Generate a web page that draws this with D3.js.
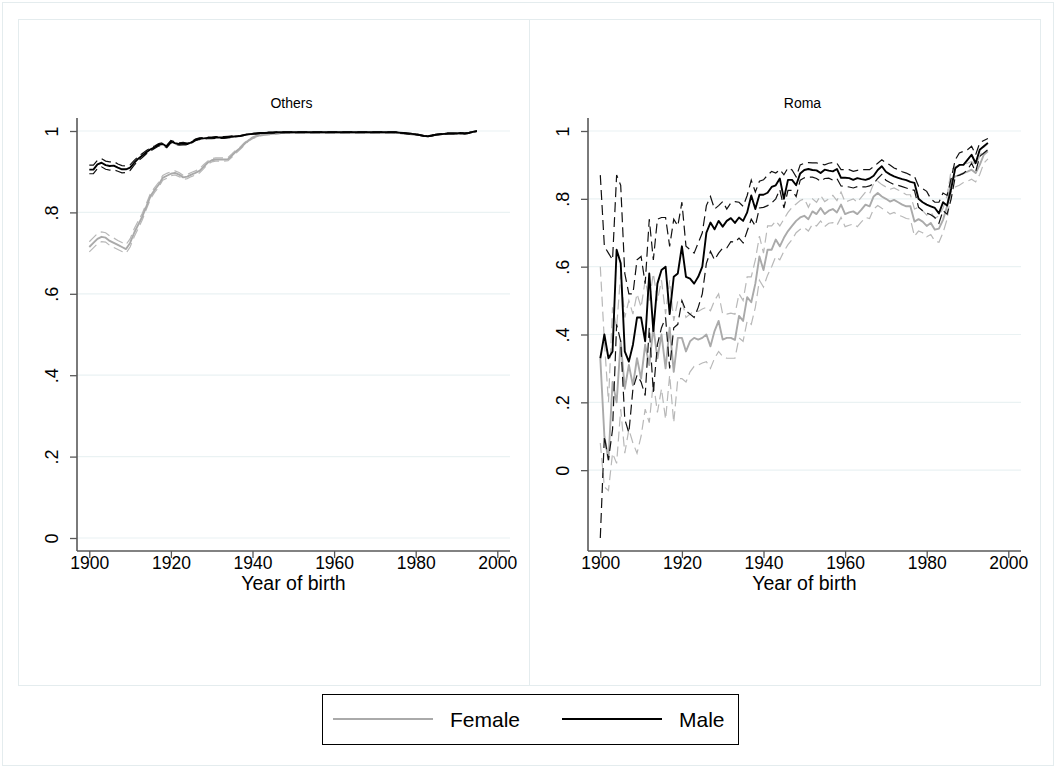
<!DOCTYPE html>
<html>
<head>
<meta charset="utf-8">
<script src="https://cdn.jsdelivr.net/npm/d3@7"></script>
<style>
  body { margin: 0; background: #fff; }
  svg { display: block; }
  text { font-family: "Liberation Sans", Arial, Helvetica, sans-serif; fill: #000; }
</style>
</head>
<body>
<svg width="1057" height="769"></svg>
<script>
// birth cohorts on the x axis
const years = d3.range(1900, 1996);
const xTicks = [1900, 1920, 1940, 1960, 1980, 2000];
const yTicks = [0, .2, .4, .6, .8, 1];
const yTickLabels = ['0', '.2', '.4', '.6', '.8', '1'];
const panelNames = ['Others', 'Roma'];
const seriesNames = ['Female', 'Male'];

// Others: female share, with lower and upper bounds
const othersFemale = [
  0.715, 0.725, 0.735, 0.740, 0.738, 0.730, 0.725, 0.720, 0.715, 0.710,
  0.725, 0.750, 0.770, 0.790, 0.815, 0.840, 0.855, 0.868, 0.885, 0.890,
  0.895, 0.897, 0.893, 0.886, 0.888, 0.893, 0.897, 0.902, 0.912, 0.922,
  0.928, 0.930, 0.930, 0.930, 0.931, 0.940, 0.950, 0.958, 0.968, 0.977,
  0.983, 0.987, 0.990, 0.991, 0.992, 0.993, 0.994, 0.995, 0.996, 0.996,
  0.997, 0.997, 0.997, 0.997, 0.997, 0.997, 0.997, 0.997, 0.997, 0.997,
  0.997, 0.997, 0.997, 0.997, 0.997, 0.997, 0.997, 0.997, 0.997, 0.997,
  0.997, 0.997, 0.997, 0.997, 0.997, 0.996, 0.995, 0.994, 0.993, 0.992,
  0.991, 0.990, 0.988, 0.987, 0.989, 0.991, 0.992, 0.993, 0.994, 0.994,
  0.994, 0.995, 0.994, 0.995, 0.998, 1.000
];
const othersFemaleLo = [
  0.703, 0.713, 0.723, 0.728, 0.727, 0.719, 0.714, 0.709, 0.704, 0.700,
  0.715, 0.740, 0.761, 0.782, 0.808, 0.833, 0.849, 0.862, 0.879, 0.884,
  0.890, 0.892, 0.888, 0.881, 0.883, 0.888, 0.892, 0.897, 0.907, 0.918,
  0.924, 0.926, 0.926, 0.926, 0.927, 0.936, 0.946, 0.955, 0.965, 0.975,
  0.981, 0.985, 0.988, 0.990, 0.991, 0.992, 0.993, 0.994, 0.995, 0.995,
  0.996, 0.996, 0.996, 0.996, 0.996, 0.996, 0.996, 0.996, 0.996, 0.996,
  0.996, 0.996, 0.996, 0.996, 0.996, 0.996, 0.996, 0.996, 0.996, 0.996,
  0.996, 0.996, 0.996, 0.996, 0.996, 0.995, 0.994, 0.993, 0.992, 0.991,
  0.990, 0.989, 0.987, 0.986, 0.988, 0.990, 0.991, 0.992, 0.993, 0.993,
  0.993, 0.994, 0.993, 0.994, 0.997, 0.999
];
const othersFemaleHi = [
  0.728, 0.738, 0.748, 0.752, 0.750, 0.742, 0.737, 0.731, 0.726, 0.721,
  0.735, 0.760, 0.779, 0.798, 0.822, 0.847, 0.861, 0.874, 0.891, 0.896,
  0.900, 0.902, 0.898, 0.891, 0.893, 0.898, 0.902, 0.907, 0.917, 0.926,
  0.932, 0.934, 0.934, 0.934, 0.935, 0.944, 0.954, 0.961, 0.971, 0.979,
  0.985, 0.989, 0.992, 0.992, 0.993, 0.994, 0.995, 0.996, 0.997, 0.997,
  0.998, 0.998, 0.998, 0.998, 0.998, 0.998, 0.998, 0.998, 0.998, 0.998,
  0.998, 0.998, 0.998, 0.998, 0.998, 0.998, 0.998, 0.998, 0.998, 0.998,
  0.998, 0.998, 0.998, 0.998, 0.998, 0.997, 0.996, 0.995, 0.994, 0.993,
  0.992, 0.991, 0.989, 0.988, 0.990, 0.992, 0.993, 0.994, 0.995, 0.995,
  0.995, 0.996, 0.995, 0.996, 0.999, 1.001
];

// Others: male
const othersMale = [
  0.905, 0.905, 0.918, 0.922, 0.916, 0.914, 0.915, 0.910, 0.906, 0.906,
  0.910, 0.922, 0.932, 0.940, 0.948, 0.955, 0.960, 0.966, 0.968, 0.962,
  0.974, 0.970, 0.968, 0.969, 0.968, 0.972, 0.978, 0.981, 0.982, 0.983,
  0.983, 0.984, 0.984, 0.984, 0.985, 0.986, 0.987, 0.988, 0.990, 0.992,
  0.993, 0.994, 0.995, 0.995, 0.996, 0.996, 0.997, 0.997, 0.997, 0.997,
  0.997, 0.997, 0.997, 0.997, 0.997, 0.997, 0.997, 0.997, 0.997, 0.997,
  0.997, 0.997, 0.997, 0.997, 0.997, 0.997, 0.997, 0.997, 0.997, 0.997,
  0.997, 0.997, 0.997, 0.997, 0.997, 0.997, 0.996, 0.995, 0.994, 0.993,
  0.992, 0.990, 0.988, 0.987, 0.989, 0.991, 0.992, 0.993, 0.994, 0.994,
  0.994, 0.995, 0.994, 0.995, 0.998, 1.000
];
const othersMaleLo = [
  0.895, 0.895, 0.908, 0.912, 0.906, 0.904, 0.905, 0.901, 0.897, 0.898,
  0.903, 0.916, 0.927, 0.935, 0.944, 0.951, 0.957, 0.963, 0.965, 0.959,
  0.971, 0.967, 0.965, 0.966, 0.966, 0.970, 0.976, 0.979, 0.980, 0.981,
  0.981, 0.982, 0.982, 0.982, 0.983, 0.984, 0.986, 0.987, 0.989, 0.991,
  0.992, 0.993, 0.994, 0.994, 0.995, 0.995, 0.996, 0.996, 0.996, 0.996,
  0.996, 0.996, 0.996, 0.996, 0.996, 0.996, 0.996, 0.996, 0.996, 0.996,
  0.996, 0.996, 0.996, 0.996, 0.996, 0.996, 0.996, 0.996, 0.996, 0.996,
  0.996, 0.996, 0.996, 0.996, 0.996, 0.996, 0.995, 0.994, 0.993, 0.992,
  0.991, 0.989, 0.987, 0.986, 0.988, 0.990, 0.991, 0.992, 0.993, 0.993,
  0.993, 0.994, 0.993, 0.994, 0.997, 0.999
];
const othersMaleHi = [
  0.916, 0.916, 0.928, 0.932, 0.926, 0.924, 0.925, 0.919, 0.915, 0.914,
  0.917, 0.928, 0.937, 0.945, 0.952, 0.959, 0.963, 0.969, 0.971, 0.965,
  0.977, 0.973, 0.971, 0.972, 0.970, 0.974, 0.980, 0.983, 0.984, 0.985,
  0.985, 0.986, 0.986, 0.986, 0.987, 0.988, 0.988, 0.989, 0.991, 0.993,
  0.994, 0.995, 0.996, 0.996, 0.997, 0.997, 0.998, 0.998, 0.998, 0.998,
  0.998, 0.998, 0.998, 0.998, 0.998, 0.998, 0.998, 0.998, 0.998, 0.998,
  0.998, 0.998, 0.998, 0.998, 0.998, 0.998, 0.998, 0.998, 0.998, 0.998,
  0.998, 0.998, 0.998, 0.998, 0.998, 0.998, 0.997, 0.996, 0.995, 0.994,
  0.993, 0.991, 0.989, 0.988, 0.990, 0.992, 0.993, 0.994, 0.995, 0.995,
  0.995, 0.996, 0.995, 0.996, 0.999, 1.001
];

// Roma: female
const romaFemale = [
  0.33, 0.10, 0.03, 0.26, 0.20, 0.38, 0.24, 0.31, 0.25, 0.33,
  0.27, 0.37, 0.31, 0.42, 0.33, 0.40, 0.30, 0.42, 0.29, 0.39,
  0.39, 0.35, 0.38, 0.39, 0.385, 0.39, 0.40, 0.365, 0.41, 0.44,
  0.385, 0.39, 0.39, 0.384, 0.455, 0.44, 0.51, 0.495, 0.55, 0.63,
  0.59, 0.65, 0.65, 0.68, 0.66, 0.685, 0.705, 0.72, 0.735, 0.745,
  0.75, 0.74, 0.763, 0.755, 0.773, 0.755, 0.765, 0.77, 0.76, 0.783,
  0.755, 0.76, 0.763, 0.755, 0.768, 0.783, 0.778, 0.807, 0.817, 0.807,
  0.80, 0.792, 0.797, 0.79, 0.783, 0.778, 0.778, 0.733, 0.74, 0.733,
  0.72, 0.729, 0.709, 0.712, 0.738, 0.778, 0.856, 0.866, 0.87, 0.876,
  0.88, 0.886, 0.876, 0.90, 0.93, 0.94
];
const romaFemaleLo = [
  0.08, -0.05, -0.06, 0.05, 0.02, 0.18, 0.05, 0.12, 0.08, 0.05,
  0.10, 0.18, 0.14, 0.26, 0.17, 0.24, 0.15, 0.28, 0.14, 0.27,
  0.27, 0.26, 0.29, 0.306, 0.31, 0.316, 0.32, 0.30, 0.33, 0.35,
  0.335, 0.33, 0.33, 0.33, 0.39, 0.38, 0.44, 0.43, 0.48, 0.56,
  0.54, 0.575, 0.60, 0.63, 0.62, 0.645, 0.665, 0.68, 0.70, 0.71,
  0.715, 0.705, 0.725, 0.72, 0.735, 0.718, 0.728, 0.73, 0.722, 0.745,
  0.718, 0.722, 0.726, 0.718, 0.732, 0.745, 0.742, 0.77, 0.78, 0.772,
  0.765, 0.755, 0.76, 0.752, 0.748, 0.742, 0.74, 0.69, 0.705, 0.70,
  0.688, 0.695, 0.675, 0.672, 0.70, 0.74, 0.82, 0.835, 0.84, 0.848,
  0.852, 0.858, 0.85, 0.872, 0.905, 0.918
];
const romaFemaleHi = [
  0.60, 0.38, 0.20, 0.48, 0.42, 0.58, 0.45, 0.50, 0.46, 0.52,
  0.48, 0.56, 0.50, 0.58, 0.50, 0.56, 0.46, 0.56, 0.44, 0.50,
  0.50, 0.45, 0.46, 0.47, 0.468, 0.475, 0.48, 0.47, 0.50, 0.52,
  0.46, 0.46, 0.463, 0.46, 0.52, 0.50, 0.57, 0.57, 0.62, 0.69,
  0.64, 0.72, 0.72, 0.735, 0.72, 0.74, 0.76, 0.775, 0.785, 0.795,
  0.80, 0.775, 0.80, 0.79, 0.81, 0.792, 0.80, 0.81, 0.795, 0.82,
  0.79, 0.795, 0.80, 0.79, 0.805, 0.82, 0.815, 0.845, 0.852, 0.842,
  0.835, 0.828, 0.832, 0.826, 0.82, 0.812, 0.812, 0.77, 0.775, 0.765,
  0.752, 0.762, 0.742, 0.75, 0.772, 0.81, 0.885, 0.895, 0.898, 0.902,
  0.905, 0.91, 0.90, 0.925, 0.952, 0.962
];

// Roma: male
const romaMale = [
  0.33, 0.40, 0.33, 0.35, 0.65, 0.61, 0.35, 0.32, 0.37, 0.45,
  0.45, 0.38, 0.58, 0.41, 0.55, 0.59, 0.60, 0.46, 0.57, 0.58,
  0.66, 0.57, 0.565, 0.55, 0.57, 0.60, 0.70, 0.73, 0.71, 0.735,
  0.718, 0.735, 0.743, 0.729, 0.745, 0.735, 0.76, 0.81, 0.77, 0.812,
  0.812, 0.818, 0.835, 0.84, 0.86, 0.80, 0.856, 0.856, 0.84, 0.875,
  0.885, 0.888, 0.885, 0.884, 0.876, 0.886, 0.883, 0.881, 0.888, 0.862,
  0.862, 0.861, 0.856, 0.861, 0.858, 0.856, 0.86, 0.868, 0.885, 0.896,
  0.88, 0.872, 0.866, 0.862, 0.858, 0.855, 0.85, 0.847, 0.80, 0.79,
  0.783, 0.778, 0.773, 0.757, 0.79, 0.78, 0.83, 0.89, 0.90, 0.90,
  0.915, 0.93, 0.905, 0.945, 0.955, 0.965
];
const romaMaleLo = [
  -0.20, 0.10, 0.03, 0.12, 0.43, 0.38, 0.15, 0.11, 0.24, 0.28,
  0.26, 0.22, 0.42, 0.23, 0.37, 0.42, 0.45, 0.30, 0.42, 0.43,
  0.50, 0.47, 0.46, 0.45, 0.48, 0.52, 0.61, 0.645, 0.62, 0.64,
  0.655, 0.655, 0.674, 0.672, 0.684, 0.67, 0.705, 0.74, 0.72, 0.773,
  0.775, 0.78, 0.788, 0.80, 0.827, 0.773, 0.825, 0.825, 0.807, 0.855,
  0.862, 0.864, 0.864, 0.86, 0.852, 0.86, 0.861, 0.855, 0.86, 0.838,
  0.837, 0.835, 0.832, 0.836, 0.835, 0.835, 0.838, 0.845, 0.86, 0.872,
  0.855, 0.848, 0.842, 0.84, 0.836, 0.832, 0.828, 0.825, 0.775, 0.765,
  0.758, 0.753, 0.745, 0.728, 0.765, 0.755, 0.80, 0.866, 0.87, 0.875,
  0.886, 0.905, 0.88, 0.925, 0.935, 0.945
];
const romaMaleHi = [
  0.87, 0.66, 0.64, 0.62, 0.87, 0.84, 0.58, 0.52, 0.52, 0.62,
  0.63, 0.55, 0.74, 0.62, 0.74, 0.745, 0.745, 0.66, 0.74, 0.72,
  0.79, 0.66, 0.65, 0.64, 0.67, 0.70, 0.78, 0.807, 0.77, 0.78,
  0.792, 0.77, 0.788, 0.792, 0.79, 0.778, 0.81, 0.855, 0.82, 0.852,
  0.856, 0.87, 0.881, 0.876, 0.886, 0.871, 0.891, 0.885, 0.865, 0.90,
  0.905, 0.907, 0.906, 0.906, 0.903, 0.90, 0.905, 0.907, 0.905, 0.886,
  0.886, 0.886, 0.881, 0.884, 0.886, 0.886, 0.886, 0.895, 0.905, 0.915,
  0.906, 0.90, 0.891, 0.886, 0.88, 0.876, 0.87, 0.866, 0.837, 0.83,
  0.822, 0.80, 0.79, 0.79, 0.817, 0.81, 0.86, 0.915, 0.935, 0.94,
  0.945, 0.955, 0.93, 0.965, 0.972, 0.978
];

const svg = d3.select('svg');
const frameColor = '#e4ecee';
const gridColor = '#eaf2f3';
const axisColor = '#595959';
const lineColor = {Female: '#aaaaaa', Male: '#000000'};
const ciColor = {Female: '#b8b8b8', Male: '#111111'};

// outer frame of the whole graph
svg.append('rect')
  .attr('x', 2.5).attr('y', 2.5)
  .attr('width', 1051).attr('height', 763)
  .attr('fill', 'none').attr('stroke', frameColor);

function drawPanel(dx, title, yMin, series) {
  const g = svg.append('g').attr('transform', 'translate(' + dx + ',0)');

  g.append('rect')
    .attr('x', 18.5).attr('y', 19.5)
    .attr('width', 511).attr('height', 666)
    .attr('fill', 'none').attr('stroke', frameColor);

  const x = d3.scaleLinear().domain([1900, 2000]).range([89.3, 497.3]);
  const y = d3.scaleLinear().domain([yMin, 1]).range([538, 131]);
  const left = 77, right = 510, top = 118, bottom = 551;

  // grid
  g.append('g').selectAll('line').data(yTicks).join('line')
    .attr('x1', left).attr('x2', right)
    .attr('y1', d => y(d)).attr('y2', d => y(d))
    .attr('stroke', gridColor).attr('stroke-width', 1.2);

  // y axis
  const yAxis = g.append('g').attr('transform', 'translate(' + left + ',0)')
    .call(d3.axisLeft(y).tickValues(yTicks).tickSize(7)
      .tickFormat((d, i) => yTickLabels[i]));
  yAxis.select('.domain').remove();
  yAxis.selectAll('.tick line').attr('stroke', axisColor).attr('stroke-width', 1.3);
  yAxis.selectAll('.tick text')
    .attr('x', 0).attr('y', 0).attr('dy', null)
    .attr('text-anchor', 'middle')
    .attr('transform', 'translate(-19,0) rotate(-90)')
    .attr('font-size', 18)
    .attr('font-family', '"Liberation Sans", Arial, sans-serif')
    .attr('fill', '#000');
  g.append('line')
    .attr('x1', left).attr('x2', left).attr('y1', top).attr('y2', bottom)
    .attr('stroke', axisColor).attr('stroke-width', 1.6);

  // x axis
  const xAxis = g.append('g').attr('transform', 'translate(0,' + bottom + ')')
    .call(d3.axisBottom(x).tickValues(xTicks).tickSize(7).tickFormat(d3.format('d')));
  xAxis.select('.domain').remove();
  xAxis.selectAll('.tick line').attr('stroke', axisColor).attr('stroke-width', 1.3);
  xAxis.selectAll('.tick text')
    .attr('y', 0).attr('dy', null)
    .attr('transform', 'translate(0,18)')
    .attr('font-size', 17.5)
    .attr('font-family', '"Liberation Sans", Arial, sans-serif')
    .attr('fill', '#000');
  g.append('line')
    .attr('x1', left).attr('x2', right).attr('y1', bottom).attr('y2', bottom)
    .attr('stroke', axisColor).attr('stroke-width', 1.6);

  g.append('text')
    .attr('x', (left + right) / 2).attr('y', 590)
    .attr('text-anchor', 'middle').attr('font-size', 19.5)
    .text('Year of birth');

  g.append('text')
    .attr('x', (left + right) / 2 - 2).attr('y', 108)
    .attr('text-anchor', 'middle').attr('font-size', 14)
    .text(title);

  const line = d3.line().x((d, i) => x(years[i])).y(d => y(d));

  series.forEach(s => {
    [s.lo, s.hi].forEach(arr => {
      g.append('path').datum(arr)
        .attr('d', line)
        .attr('fill', 'none')
        .attr('stroke', ciColor[s.name])
        .attr('stroke-width', 1.2)
        .attr('stroke-dasharray', '10,5');
    });
    g.append('path').datum(s.mean)
      .attr('d', line)
      .attr('fill', 'none')
      .attr('stroke', lineColor[s.name])
      .attr('stroke-width', 1.9)
      .attr('stroke-linejoin', 'round');
  });
}

drawPanel(0, panelNames[0], 0, [
  {name: 'Female', mean: othersFemale, lo: othersFemaleLo, hi: othersFemaleHi},
  {name: 'Male', mean: othersMale, lo: othersMaleLo, hi: othersMaleHi},
]);
drawPanel(511, panelNames[1], -0.2, [
  {name: 'Female', mean: romaFemale, lo: romaFemaleLo, hi: romaFemaleHi},
  {name: 'Male', mean: romaMale, lo: romaMaleLo, hi: romaMaleHi},
]);

// legend
const legend = svg.append('g');
legend.append('rect')
  .attr('x', 322.5).attr('y', 694.5)
  .attr('width', 416).attr('height', 50)
  .attr('fill', '#fff').attr('stroke', '#000').attr('stroke-width', 1);
const legendX = [333, 562];
seriesNames.forEach((name, i) => {
  legend.append('line')
    .attr('x1', legendX[i]).attr('x2', legendX[i] + 100)
    .attr('y1', 719).attr('y2', 719)
    .attr('stroke', lineColor[name]).attr('stroke-width', 2);
  legend.append('text')
    .attr('x', legendX[i] + 117).attr('y', 727)
    .attr('font-size', 21)
    .text(name);
});
</script>
</body>
</html>
